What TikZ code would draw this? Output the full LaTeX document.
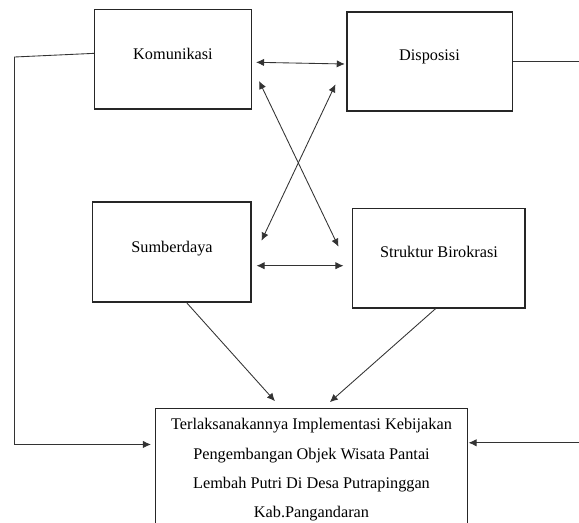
\documentclass[tikz,border=0pt]{standalone}
\usepackage{fontspec}
\setmainfont{Liberation Serif}
\usetikzlibrary{arrows.meta,positioning}

\tikzset{
  box/.style = {draw = black!85, line width = 0.8pt, shape = rectangle, inner sep = 0pt},
  lbl/.style = {font = \fontsize{12.2}{22}\selectfont, inner sep = 0pt, anchor = base},
  link/.style = {draw = black!80, line width = 0.65pt},
  tip/.style = {-{Latex[length=6pt,width=5.5pt]}},
  tips/.style = {{Latex[length=6pt,width=5.5pt]}-{Latex[length=6pt,width=5.5pt]}}
}

\begin{document}
\begin{tikzpicture}[x = 0.75pt, y = -0.75pt]
\path[use as bounding box, clip] (0,0) rectangle (579,522);
\node[box, minimum width = 118pt, minimum height = 74.5pt] (kom) at (173.15,59.35) {};
\node[box, minimum width = 124.2pt, minimum height = 74.25pt] (disp) at (429.8,61.5) {};
\node[box, minimum width = 119pt, minimum height = 75pt] (sum) at (171.65,252) {};
\node[box, minimum width = 129.5pt, minimum height = 74.5pt] (str) at (438.65,258.35) {};
\node[box, minimum width = 234pt, minimum height = 97.5pt] (goal) at (311.5,473.3) {};
\node[lbl] (komt) at (173,59.3) {Komunikasi};
\node[lbl] (dispt) at (429.5,60.3) {Disposisi};
\node[lbl] (sumt) at (172,252) {Sumberdaya};
\node[lbl] (strt) at (439,257.5) {Struktur Birokrasi};
\node[lbl, anchor = north, align = center] (goalt) at (311.5,418.4)
  {Terlaksanakannya Implementasi Kebijakan\\Pengembangan Objek Wisata Pantai\\Lembah Putri Di Desa Putrapinggan\\Kab.Pangandaran};
% antar faktor
\draw[link, tips] ([shift={(3.7,2.95)}]kom.east) -- ([shift={(-1.7,2.5)}]disp.west);
\draw[link, tips] ([shift={(6.7,21.65)}]kom.east) -- ([shift={(-13.3,-11.65)}]str.west);
\draw[link, tips] ([shift={(-11,22.8)}]disp.west) -- ([shift={(10,-11.3)}]sum.east);
\draw[link, tips] ([shift={(5,13.7)}]sum.east) -- ([shift={(-8.3,7.35)}]str.west);
% ke implementasi
\draw[link, tip] ([shift={(14.85,0)}]sum.south) -- ([shift={(-36.5,-6.6)}]goal.north);
\draw[link, tip] ([shift={(-2.95,0)}]str.south) -- ([shift={(18.3,-5.6)}]goal.north);
\draw[link, tip] ([shift={(0,-6)}]kom.west) -- (14.5,57) |- ([shift={(-4,36.7)}]goal.north west);
\draw[link, tip] (disp.east) -- (600,61.5) |- ([shift={(0.5,35)}]goal.north east);
\end{tikzpicture}
\end{document}
